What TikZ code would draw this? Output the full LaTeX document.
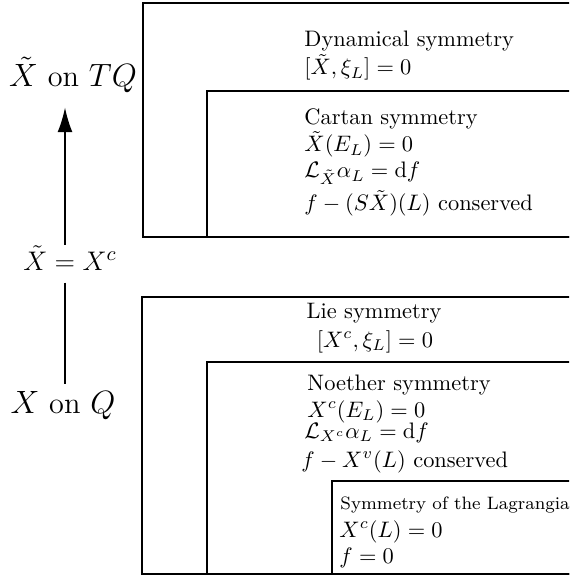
\documentclass[tikz,border=0pt]{standalone}
\usetikzlibrary{arrows.meta}
\begin{document}
\begin{tikzpicture}[x=0.4464pt,y=-0.4464pt,
  lbl/.style={inner sep=0pt, anchor=base, font=\fontsize{13.5}{16}\selectfont},
  txt/.style={inner sep=0pt, anchor=base west},
  ctxt/.style={inner sep=0pt, anchor=base},
  outerbox/.style={line width=1.1pt},
  innerbox/.style={line width=0.7pt},
  conn/.style={line width=0.6pt},
  arr/.style={conn, -{Latex[length=11pt,width=6.7pt]}}]
\useasboundingbox (0,0) rectangle (569,576);
\clip (0,0) rectangle (569,576);
% boxes
\draw[innerbox] (207,91) rectangle (640,237);
\draw[outerbox] (143,3) rectangle (640,237);
\draw[innerbox] (332,481) rectangle (640,574);
\draw[innerbox] (207,362) rectangle (640,574);
\draw[outerbox] (142,297) rectangle (640,574);
% left labels
\coordinate (ax) at (65,0);
\node[lbl] (tq) at (73,87) {$\tilde X$ on $TQ$};
\node[lbl, font=\fontsize{12.8}{15}\selectfont] (xc) at (70,270) {$\tilde X = X^c$};
\node[lbl] (xq) at (63,413) {$X$ on $Q$};
\draw[arr, shorten >=6.2pt] (xc.north -| ax) -- (tq.south -| ax);
\draw[conn, shorten <=5.4pt, shorten >=3.1pt] (xc.south -| ax) -- (xq.north -| ax);
% top box texts
\node[txt] (dyn) at (304,47) {Dynamical symmetry};
\node[txt] (dyneq) at (304,75) {$[\tilde X,\xi_L]=0$};
\node[txt] (cartan) at (304,125) {Cartan symmetry};
\node[txt] (c1) at (304,152) {$\tilde X(E_L)=0$};
\node[txt] (c2) at (304,178) {$\mathcal{L}_{\tilde X}\alpha_L=\mathrm{d}f$};
\node[txt] (c3) at (304,211) {$f-(S\tilde X)(L)$ conserved};
% bottom box texts
\node[ctxt] (lie) at (374,318) {Lie symmetry};
\node[ctxt] (lieeq) at (375,347) {$[X^c,\xi_L]=0$};
\node[txt] (noe) at (307,390) {Noether symmetry};
\node[txt] (n1) at (307,417) {$X^c(E_L)=0$};
\node[txt] (n2) at (304,438) {$\mathcal{L}_{X^c}\alpha_L=\mathrm{d}f$};
\node[txt] (n3) at (301,467) {$f-X^v(L)$ conserved};
\node[txt] (lag) at (340,509) {\footnotesize Symmetry of the Lagrangian};
\node[txt] (l1) at (339,537) {$X^c(L)=0$};
\node[txt] (l2) at (339,563) {$f=0$};
\end{tikzpicture}
\end{document}
